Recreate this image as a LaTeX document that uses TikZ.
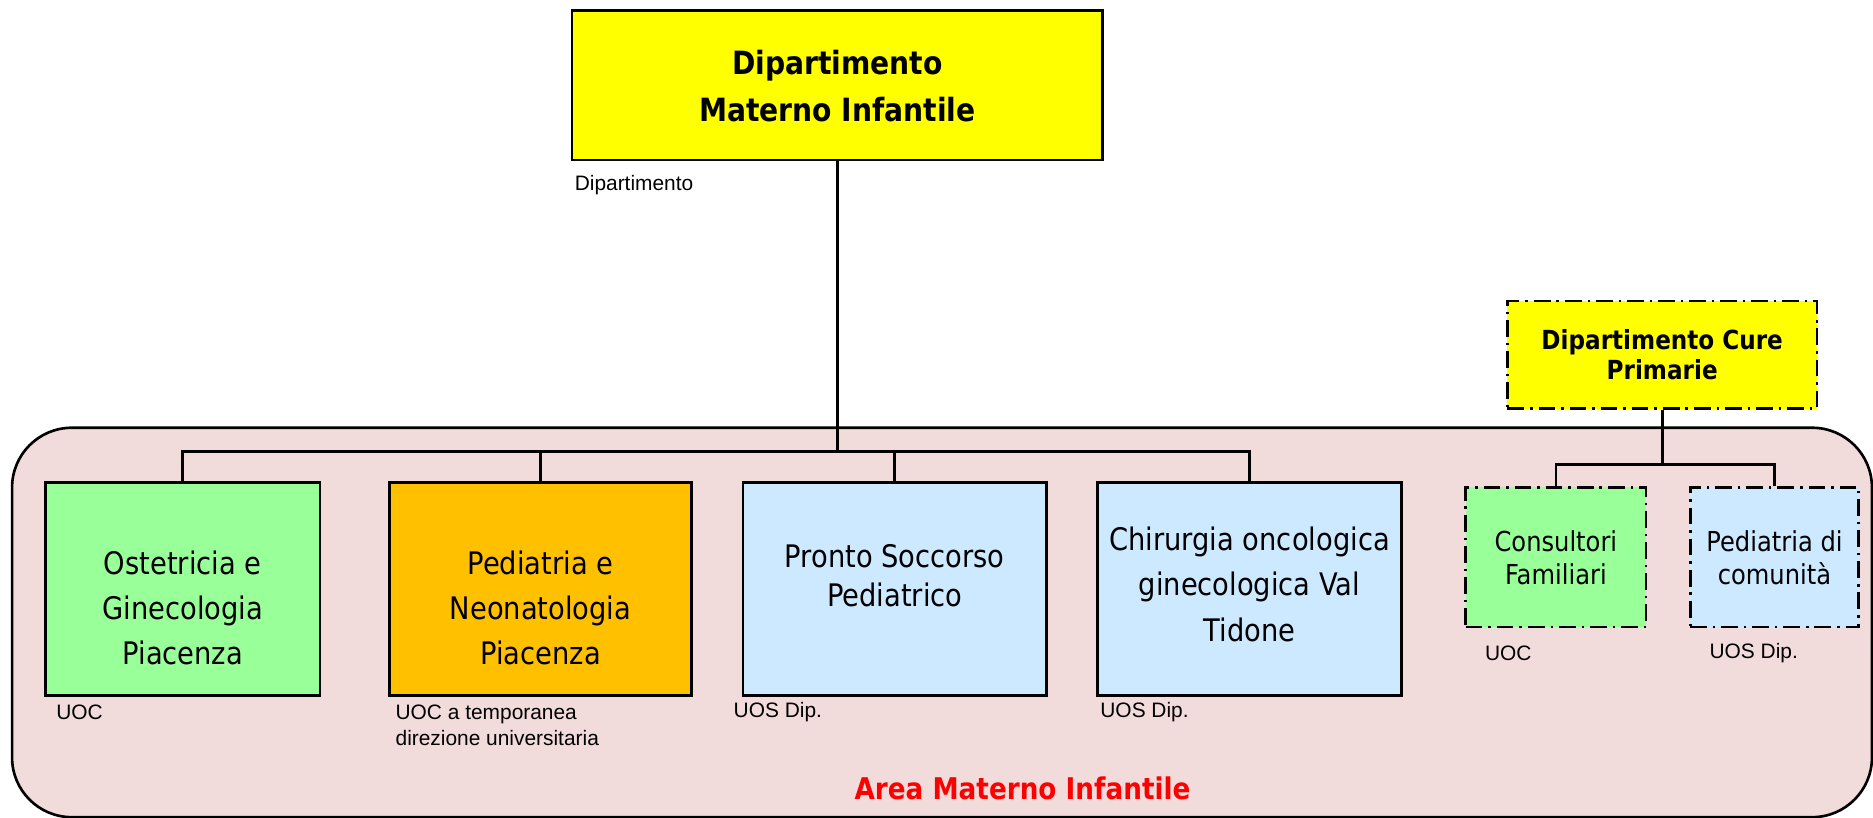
\documentclass[tikz,border=0pt]{standalone}
\usepackage{fontspec}
\setmainfont{DejaVu Sans}[FakeStretch=0.88]
\newfontfamily\lblfont{Liberation Sans}
\definecolor{ybox}{HTML}{FFFF00}
\definecolor{gbox}{HTML}{99FF99}
\definecolor{obox}{HTML}{FFC000}
\definecolor{bbox}{HTML}{CCE9FF}
\definecolor{pinkbg}{HTML}{F2DCDB}
\begin{document}
\begin{tikzpicture}[x=1pt,y=-1pt,
  box/.style={draw=black, line width=2.2pt, inner sep=0pt},
  dbox/.style={box, dash pattern=on 14pt off 5pt on 2pt off 5pt},
  body/.style={align=center, inner sep=0pt, font=\fontsize{26}{38}\selectfont},
  smallbody/.style={align=center, inner sep=0pt, font=\fontsize{23}{27}\selectfont},
  lbl/.style={anchor=west, inner sep=0pt, align=left, font=\lblfont\fontsize{17.5}{22}\selectfont},
  conn/.style={line width=2.2pt}]
\useasboundingbox (0,0) rectangle (1568,684);
% area
\node[draw=black, line width=2.2pt, fill=pinkbg, rounded corners=50pt, minimum width=1557pt, minimum height=326pt, anchor=north west, inner sep=0pt] (area) at (9,357) {};
\node[text=red, inner sep=0pt, font=\bfseries\fontsize{25}{30}\selectfont] (areatitle) at (856,660) {Area Materno Infantile};
% top box
\node[box, fill=ybox, minimum width=444pt, minimum height=125pt] (top) at (701,71.5) {};
\node[inner sep=0pt, align=center, font=\bfseries\fontsize{26.8}{39}\selectfont] (toptxt) at (701,72) {Dipartimento\\Materno Infantile};
\node[lbl] (toplbl) at (481,155) {Dipartimento};
% hubs
\coordinate (hub) at (701,378);
\coordinate (hub2) at (1391.5,389);
% main boxes
\node[box, fill=gbox, minimum width=230pt, minimum height=178pt] (b1) at (153,493) {};
\node[box, fill=obox, minimum width=253pt, minimum height=178pt] (b2) at (452.5,493) {};
\node[box, fill=bbox, minimum width=254pt, minimum height=178pt] (b3) at (749,493) {};
\node[box, fill=bbox, minimum width=254pt, minimum height=178pt] (b4) at (1046,493) {};
\draw[conn] (top.south) -- (hub);
\draw[conn] (hub) -| (b1.north);
\draw[conn] (hub) -| (b2.north);
\draw[conn] (hub) -| (b3.north);
\draw[conn] (hub) -| (b4.north);
\node[body] (t1) at (153,509) {Ostetricia e\\Ginecologia\\Piacenza};
\node[body] (t2) at (452.5,509) {Pediatria e\\Neonatologia\\Piacenza};
\node[body, font=\fontsize{26}{32}\selectfont] (t3) at (749,482) {Pronto Soccorso\\Pediatrico};
\node[body] (t4) at (1046,489) {Chirurgia oncologica\\ginecologica Val\\Tidone};
\node[lbl] (l1) at (47,596) {UOC};
\node[lbl] (l2) at (331,607) {UOC a temporanea\\direzione universitaria};
\node[lbl] (l3) at (614,596) {UOS Dip.};
\node[lbl] (l4) at (921,596) {UOS Dip.};
% cure primarie
\node[dbox, fill=ybox, minimum width=259pt, minimum height=90pt] (cure) at (1391.5,297) {};
\node[inner sep=0pt, align=center, font=\bfseries\fontsize{22}{25}\selectfont] (curetxt) at (1391.5,297) {Dipartimento Cure\\Primarie};
\node[dbox, fill=gbox, minimum width=151pt, minimum height=117pt] (cons) at (1302.5,466.5) {};
\node[dbox, fill=bbox, minimum width=141pt, minimum height=117pt] (ped) at (1485.5,466.5) {};
\draw[conn] (cure.south) -- (hub2);
\draw[conn] (hub2) -| (cons.north);
\draw[conn] (hub2) -| (ped.north);
\node[smallbody] (ct) at (1302.5,467) {Consultori\\Familiari};
\node[smallbody] (pt) at (1485.5,467) {Pediatria di\\comunità};
\node[lbl] (l5) at (1243,547) {UOC};
\node[lbl] (l6) at (1431,547) {UOS Dip.};
\end{tikzpicture}
\end{document}
